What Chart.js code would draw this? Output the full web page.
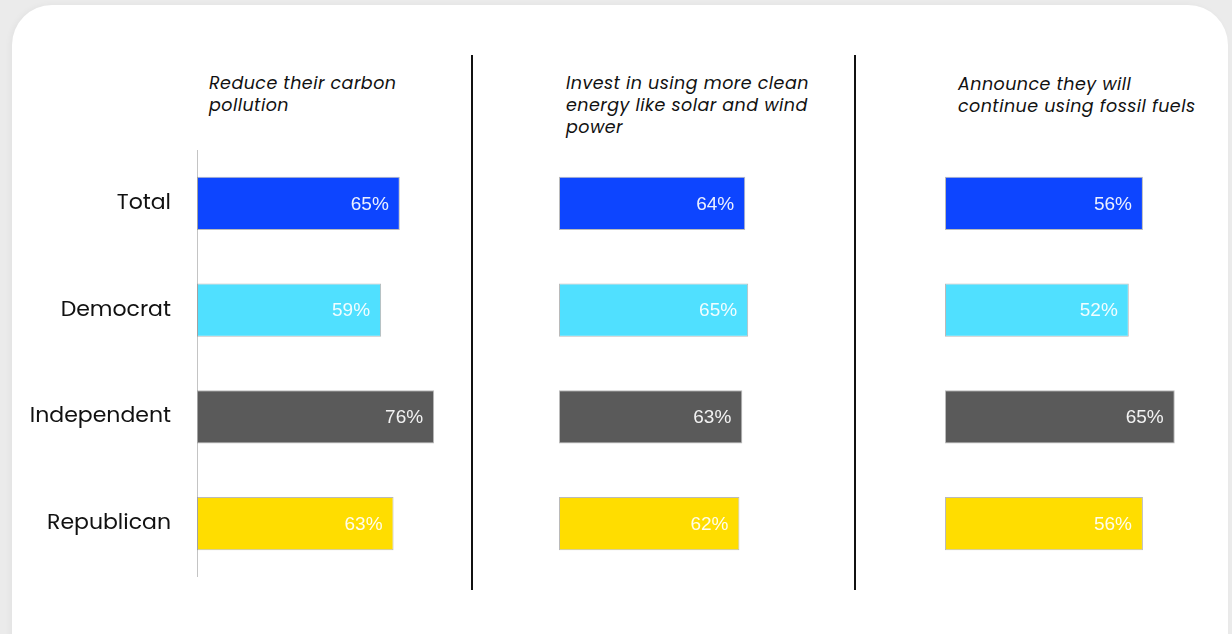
<!DOCTYPE html>
<html>
<head>
<meta charset="utf-8">
<script src="https://cdn.jsdelivr.net/npm/chart.js@4.4.1/dist/chart.umd.min.js"></script>
<style>
  html, body { margin: 0; padding: 0; width: 1232px; height: 634px; overflow: hidden; background: #ebebeb; }
  .card {
    position: absolute; left: 12px; top: 5px; width: 1216px; height: 680px;
    background: #fff; border-radius: 40px;
    box-shadow: -2px 0 6px rgba(0,0,0,0.04);
  }
  .title {
    position: absolute; font-family: 'Poppins', 'Open Sans', sans-serif; font-style: italic;
    font-size: 17.5px; line-height: 22px; letter-spacing: 0.45px; color: #111;
  }
  .divider { position: absolute; top: 55px; height: 535px; width: 2px; background: #111; }
  canvas { position: absolute; }
</style>
</head>
<body>
<div class="card"></div>
<div class="title" style="left:209px; top:72px;">Reduce their carbon<br>pollution</div>
<div class="title" style="left:566px; top:72px;">Invest in using more clean<br>energy like solar and wind<br>power</div>
<div class="title" style="left:958px; top:73px;">Announce they will<br>continue using fossil fuels</div>
<div class="divider" style="left:471px;"></div>
<div class="divider" style="left:854px;"></div>
<canvas id="carbon" width="510" height="427" style="left:-1px; top:150px;"></canvas>
<canvas id="clean" width="291" height="427" style="left:559px; top:150px;"></canvas>
<canvas id="fossil" width="281" height="427" style="left:945px; top:150px;"></canvas>
<script>
const categories = ['Total', 'Democrat', 'Independent', 'Republican'];
const reduceCarbon = [65, 59, 76, 63];
const investClean = [64, 65, 63, 62];
const keepFossil = [56, 52, 65, 56];

const barColors = ['#0d45ff', '#50e0ff', '#5a5a5a', '#ffdd00'];

// writes "NN%" inside the right end of each bar
const valueLabels = {
  id: 'valueLabels',
  afterDatasetsDraw(chart) {
    const ctx = chart.ctx;
    const meta = chart.getDatasetMeta(0);
    const values = chart.data.datasets[0].data;
    ctx.save();
    ctx.font = '19px "Liberation Sans", Arial, sans-serif';
    ctx.fillStyle = 'rgba(255,255,255,0.92)';
    ctx.textAlign = 'right';
    ctx.textBaseline = 'middle';
    meta.data.forEach((bar, i) => {
      ctx.fillText(values[i] + '%', bar.x - 11, bar.y + 1);
    });
    ctx.restore();
  }
};

function makePanel(id, values, max, showCategories) {
  const yAxis = {
    display: showCategories,
    grid: { display: false, drawTicks: false },
    border: { display: true, color: '#c4c4c4', width: 1 },
    ticks: {
      padding: 26,
      color: '#111',
      font: { family: "'Poppins', 'Open Sans', sans-serif", size: 22 }
    }
  };
  if (showCategories) {
    // fixed label column, and no extra space above/below the bars
    yAxis.afterFit = (scale) => {
      scale.width = 198;
      scale.paddingTop = 0;
      scale.paddingBottom = 0;
    };
  }

  new Chart(document.getElementById(id), {
    type: 'bar',
    data: {
      labels: categories,
      datasets: [{
        data: values,
        backgroundColor: barColors,
        borderColor: 'rgba(140,140,140,0.6)',
        borderWidth: 1,
        borderSkipped: false,
        categoryPercentage: 1,
        barPercentage: 0.5
      }]
    },
    options: {
      indexAxis: 'y',
      responsive: false,
      animation: false,
      layout: { padding: 0 },
      plugins: { legend: { display: false }, tooltip: { enabled: false } },
      scales: {
        x: { display: false, min: 0, max: max },
        y: yAxis
      }
    },
    plugins: [valueLabels]
  });
}

makePanel('carbon', reduceCarbon, 100, true);
makePanel('clean', investClean, 100, false);
makePanel('fossil', keepFossil, 79.5, false);
</script>
</body>
</html>
